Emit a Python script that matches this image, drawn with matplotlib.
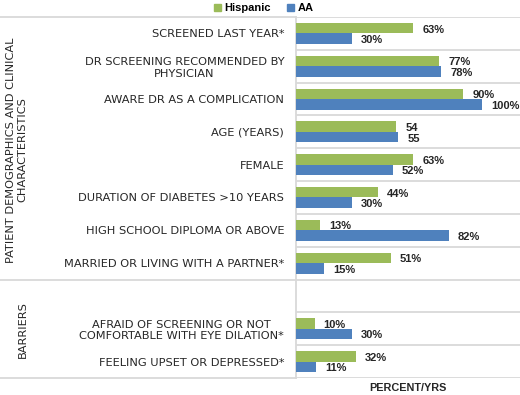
import numpy as np
import matplotlib
matplotlib.use("Agg")
import matplotlib.pyplot as plt
import matplotlib.transforms as mtransforms
from matplotlib.patches import Patch

# datos
categorias = ["SCREENED LAST YEAR*",
              "DR SCREENING RECOMMENDED BY\nPHYSICIAN",
              "AWARE DR AS A COMPLICATION",
              "AGE (YEARS)",
              "FEMALE",
              "DURATION OF DIABETES >10 YEARS",
              "HIGH SCHOOL DIPLOMA OR ABOVE",
              "MARRIED OR LIVING WITH A PARTNER*",
              "",
              "AFRAID OF SCREENING OR NOT\nCOMFORTABLE WITH EYE DILATION*",
              "FEELING UPSET OR DEPRESSED*"]
hispanic = [63, 77, 90, 54, 63, 44, 13, 51, np.nan, 10, 32]
aa = [30, 78, 100, 55, 52, 30, 82, 15, np.nan, 30, 11]
etiquetas_hisp = ["63%", "77%", "90%", "54", "63%", "44%", "13%", "51%", "", "10%", "32%"]
etiquetas_aa = ["30%", "78%", "100%", "55", "52%", "30%", "82%", "15%", "", "30%", "11%"]
grupos = ["PATIENT DEMOGRAPHICS AND CLINICAL\nCHARACTERISTICS", "BARRIERS"]
series = ["Hispanic", "AA"]

verde = "#9BBB59"
azul = "#4F81BD"
gris = "#D9D9D9"
texto = "#262626"
fuente_cat = "DejaVu Sans"
fuente_val = "Liberation Sans"

fig = plt.figure(figsize=(5.2, 3.95), dpi=100)
ax = fig.add_axes([296 / 520, 1 - 378 / 395, 224 / 520, 361 / 395])

y = np.arange(len(categorias))
h = 0.32
ax.barh(y - h / 2, hispanic, height=h, color=verde, zorder=3)
ax.barh(y + h / 2, aa, height=h, color=azul, zorder=3)

# etiquetas de valores
for i in range(len(categorias)):
    if etiquetas_hisp[i]:
        ax.annotate(etiquetas_hisp[i], (hispanic[i], y[i] - h / 2), xytext=(6.5, -1),
                    textcoords="offset points", ha="left", va="center",
                    fontsize=8, fontweight="bold", family=fuente_val, color=texto)
    if etiquetas_aa[i]:
        ax.annotate(etiquetas_aa[i], (aa[i], y[i] + h / 2), xytext=(6.5, -1),
                    textcoords="offset points", ha="left", va="center",
                    fontsize=8, fontweight="bold", family=fuente_val, color=texto)

ax.set_xlim(0, 120.4)
ax.set_ylim(len(categorias) - 0.5, -0.5)
ax.set_yticks(y)
ax.set_yticklabels(categorias, fontsize=8.2, family=fuente_cat,
                   color=texto, multialignment="center")
ax.tick_params(axis="y", length=0, pad=8.5)
ax.set_xticks([])
ax.set_xlabel("PERCENT/YRS", fontsize=7.8, family=fuente_val, fontweight="bold",
              color=texto, labelpad=3.5)
for s in ["top", "right", "bottom"]:
    ax.spines[s].set_visible(False)
ax.spines["left"].set_color(gris)
ax.spines["left"].set_linewidth(1.3)

# lineas de la cuadricula
for b in np.arange(-0.5, len(categorias) + 0.5):
    ax.axhline(b, color=gris, lw=1.3, zorder=1)
trans = mtransforms.blended_transform_factory(fig.transFigure, ax.transData)
for b in [-0.5, 7.5, 10.5]:
    ax.plot([0, 296 / 520], [b, b], color=gris, lw=1.3, transform=trans, clip_on=False)

# etiquetas de grupo
fig.text(17 / 520, 1 - 150 / 395, grupos[0], rotation=90, ha="center", va="center",
         multialignment="center", fontsize=8.2, family=fuente_cat, color=texto)
fig.text(23 / 520, 1 - 330 / 395, grupos[1], rotation=90, ha="center", va="center",
         fontsize=8.2, family=fuente_cat, color=texto)

handles = [Patch(color=verde), Patch(color=azul)]
fig.legend(handles, series, loc="upper center", bbox_to_anchor=(0.507, 1.017), ncol=2,
           frameon=False, handlelength=0.7, handleheight=0.7, handletextpad=0.3,
           columnspacing=1.4, prop={"family": fuente_val, "weight": "bold", "size": 8})

fig.savefig("out.png", dpi=100)
